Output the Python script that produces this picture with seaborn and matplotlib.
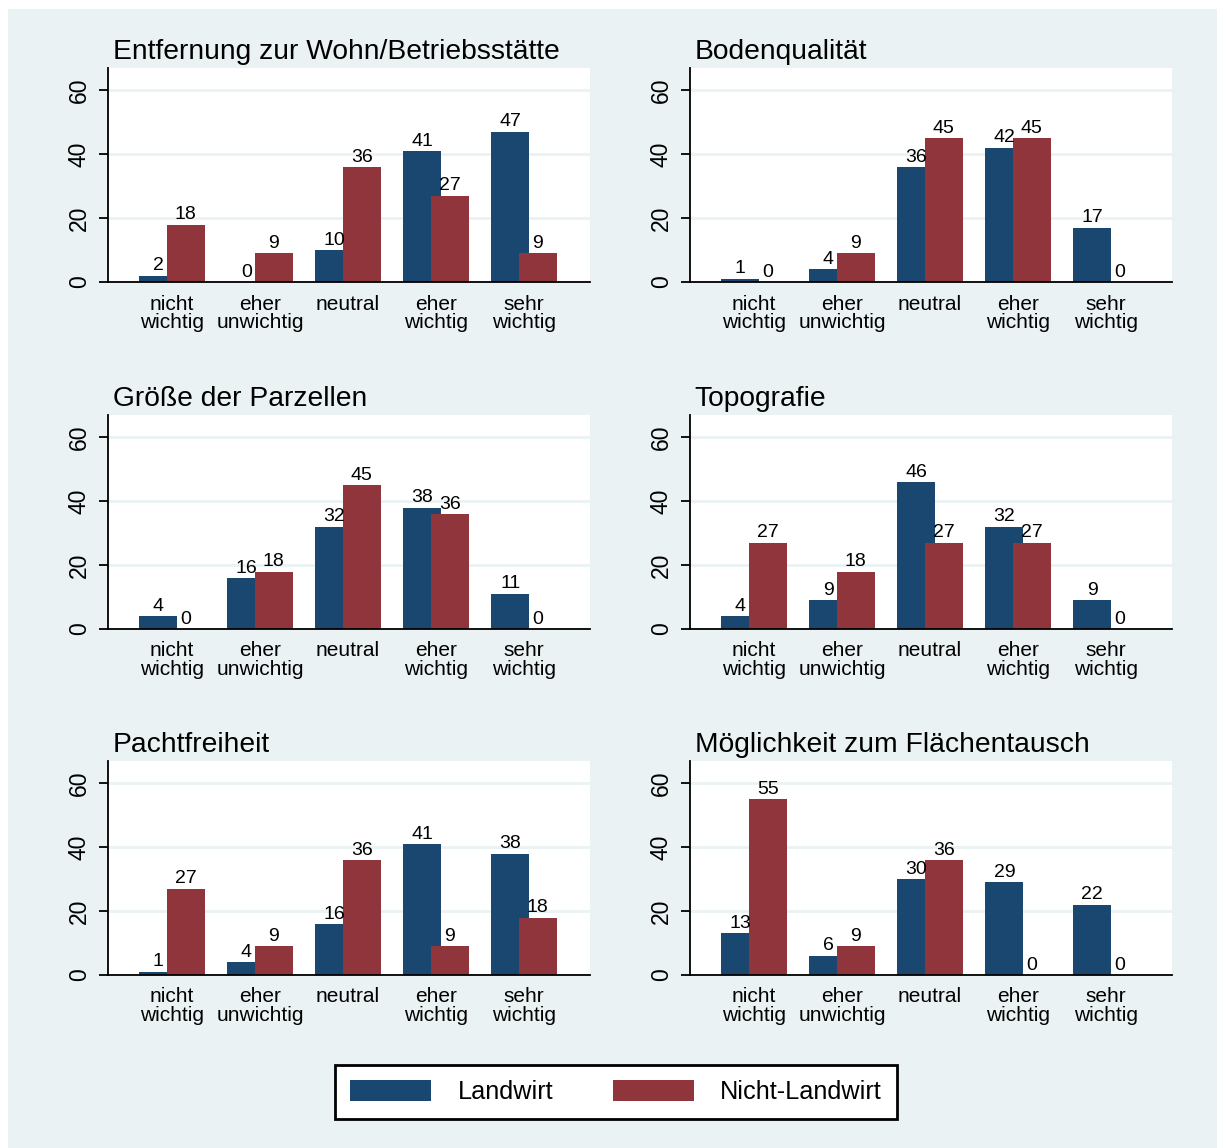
import pandas as pd
import matplotlib
matplotlib.use('Agg')
import matplotlib.pyplot as plt
import matplotlib.patches as mpatches
import seaborn as sns

# ---- data (percent per answer category) ----
categories = ['nicht\nwichtig', 'eher\nunwichtig', 'neutral', 'eher\nwichtig', 'sehr\nwichtig']
groups = ['Landwirt', 'Nicht-Landwirt']

titles = ['Entfernung zur Wohn/Betriebsstätte', 'Bodenqualität',
          'Größe der Parzellen', 'Topografie',
          'Pachtfreiheit', 'Möglichkeit zum Flächentausch']

entfernung_lw = [2, 0, 10, 41, 47]
entfernung_nlw = [18, 9, 36, 27, 9]
boden_lw = [1, 4, 36, 42, 17]
boden_nlw = [0, 9, 45, 45, 0]
groesse_lw = [4, 16, 32, 38, 11]
groesse_nlw = [0, 18, 45, 36, 0]
topo_lw = [4, 9, 46, 32, 9]
topo_nlw = [27, 18, 27, 27, 0]
pacht_lw = [1, 4, 16, 41, 38]
pacht_nlw = [27, 9, 36, 9, 18]
tausch_lw = [13, 6, 30, 29, 22]
tausch_nlw = [55, 9, 36, 0, 0]

panel_data = [(entfernung_lw, entfernung_nlw), (boden_lw, boden_nlw),
              (groesse_lw, groesse_nlw), (topo_lw, topo_nlw),
              (pacht_lw, pacht_nlw), (tausch_lw, tausch_nlw)]

colors = {'Landwirt': '#1A476F', 'Nicht-Landwirt': '#90353B'}
bg = '#EAF2F3'

sns.set_style('white')
plt.rcParams['font.family'] = ['Liberation Sans', 'DejaVu Sans']
plt.rcParams['text.color'] = 'black'
plt.rcParams['xtick.color'] = 'black'
plt.rcParams['ytick.color'] = 'black'

W, H = 1217, 1148
fig = plt.figure(figsize=(W / 100, H / 100), dpi=100, facecolor='white')
fig.patches.append(mpatches.Rectangle((8 / W, 0), 1, 1 - 9 / H, transform=fig.transFigure,
                                      facecolor=bg, edgecolor='none', zorder=-10))

lefts = [108, 690]
bottoms = [282, 629, 975]
pw, ph = 482, 214


def draw_panel(ax, title, lw, nlw):
    df = pd.DataFrame({'kategorie': categories * 2,
                       'gruppe': [groups[0]] * 5 + [groups[1]] * 5,
                       'prozent': lw + nlw})
    sns.barplot(data=df, x='kategorie', y='prozent', hue='gruppe', palette=colors,
                width=0.74, dodge=True, saturation=1, errorbar=None, legend=False,
                linewidth=0, ax=ax)
    # Stata style: bars overlap a little
    for bar in ax.containers[0]:
        bar.set_width(0.43)
    for bar in ax.containers[1]:
        bar.set_x(bar.get_x() - 0.06)
        bar.set_width(0.43)
    for cont in ax.containers:
        ax.bar_label(cont, fmt='%.0f', padding=1, fontsize=14, color='black')
    ax.set_facecolor('white')
    ax.set_xlim(-0.727, 4.75)
    ax.set_ylim(0, 67)
    ax.set_yticks([0, 20, 40, 60])
    ax.set_xlabel('')
    ax.set_ylabel('')
    ax.set_axisbelow(True)
    ax.yaxis.grid(True, color=bg, linewidth=2)
    ax.xaxis.grid(False)
    for s in ['top', 'right']:
        ax.spines[s].set_visible(False)
    for s in ['left', 'bottom']:
        ax.spines[s].set_color('black')
        ax.spines[s].set_linewidth(1.3)
    ax.tick_params(axis='x', length=0, pad=9, labelsize=15)
    ax.tick_params(axis='y', length=6.5, width=1.3, color='black', pad=6, labelsize=16.5, left=True)
    for t in ax.get_yticklabels():
        t.set_rotation(90)
        t.set_va('center')
    for t in ax.get_xticklabels():
        t.set_linespacing(0.95)
    ax.text(0.01, 1.042, title, transform=ax.transAxes, fontsize=20.3, ha='left', va='baseline')


for i, (title, (lw, nlw)) in enumerate(zip(titles, panel_data)):
    row, col = divmod(i, 2)
    ax = fig.add_axes([lefts[col] / W, 1 - bottoms[row] / H, pw / W, ph / H])
    draw_panel(ax, title, lw, nlw)

handles = [mpatches.Patch(color=colors[g], label=g, linewidth=0) for g in groups]
leg = fig.legend(handles=handles, loc='center', bbox_to_anchor=(616 / W, 1 - 1092 / H),
                 ncol=2, fontsize=18.2, frameon=True, fancybox=False, handlelength=3.2,
                 handleheight=0.88, handletextpad=1.04, columnspacing=2.35, borderpad=0.6)
leg.get_frame().set_edgecolor('black')
leg.get_frame().set_linewidth(2)
leg.get_frame().set_facecolor('white')
leg.get_frame().set_alpha(1)

fig.savefig('out.png', dpi=100, facecolor=fig.get_facecolor())
